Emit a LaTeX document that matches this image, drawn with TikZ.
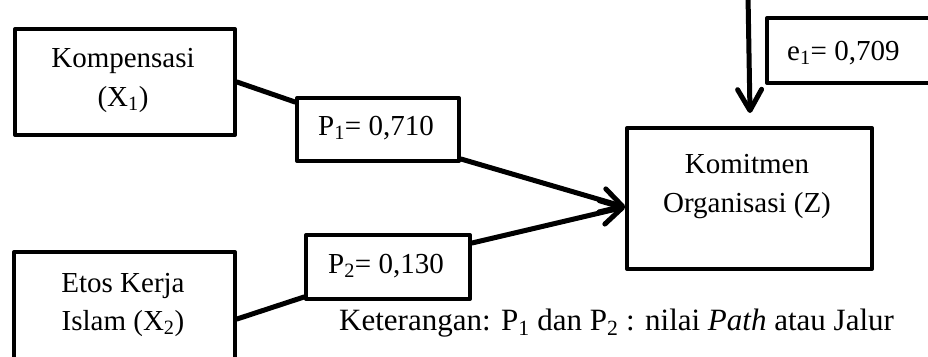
\documentclass[tikz,border=0pt]{standalone}
\usepackage{fontspec}
\setmainfont{Liberation Serif}
\usetikzlibrary{arrows.meta}
\begin{document}
\begin{tikzpicture}[x=1pt,y=-1pt,
  box/.style={draw, line width=4pt, line join=round, rectangle, inner sep=0pt, anchor=north west},
  lbl/.style={font=\fontsize{29}{35}\selectfont, inner sep=0pt, anchor=base},
  notelbl/.style={font=\fontsize{31}{37}\selectfont, inner sep=0pt, anchor=base west},
  link/.style={line width=5pt, line cap=round, line join=round},
  arr/.style={link, -{Straight Barb[length=21pt, width=24pt, line cap=round, line join=round]}}]
\useasboundingbox (0,0) rectangle (928,356);

% variable boxes
\node[box, minimum width=220pt, minimum height=106pt] (X1) at (13,27) {};
\node[box, minimum width=221pt, minimum height=112pt] (X2) at (12,250) {};
\node[box, minimum width=162pt, minimum height=63pt] (P1) at (295,96) {};
\node[box, minimum width=164pt, minimum height=64pt] (P2) at (304,233) {};
\node[box, minimum width=245pt, minimum height=141pt] (Z) at (625,126) {};
\node[box, minimum width=200pt, minimum height=65pt] (E) at (765,16) {};

% box texts
\node[lbl] (X1a) at (123,67) {Kompensasi};
\node[lbl] (X1b) at (123,106) {(X\textsubscript{1})};
\node[lbl] (X2a) at (123,292) {Etos Kerja};
\node[lbl] (X2b) at (123,330) {Islam (X\textsubscript{2})};
\node[lbl] (P1t) at (376,135) {P\textsubscript{1}= 0,710};
\node[lbl] (P2t) at (386,273) {P\textsubscript{2}= 0,130};
\node[lbl] (Za) at (747,173) {Komitmen};
\node[lbl] (Zb) at (747,212) {Organisasi (Z)};
\node[lbl, anchor=base west] (Et) at (787,60) {e\textsubscript{1}= 0,709};

% note
\node[notelbl] (note) at (339,330)
  {Keterangan: P\textsubscript{1} dan P\textsubscript{2} : nilai \textit{Path} atau Jalur};

% paths
\coordinate (eIn) at (748,-5);
\draw[link] (X1.east) -- ([yshift=-6pt]P1.north west);
\draw[link] ([yshift=-11pt]X2.east) -- ([yshift=4pt]P2.south west);
\draw[arr] ([yshift=4pt]P1.south east) -- ([yshift=-8.5pt]Z.west);
\draw[arr] ([yshift=-10pt]P2.north east) -- ([yshift=-8.5pt]Z.west);
\draw[arr] (eIn) -- ([xshift=0.5pt,yshift=13pt]Z.north);
\end{tikzpicture}
\end{document}
